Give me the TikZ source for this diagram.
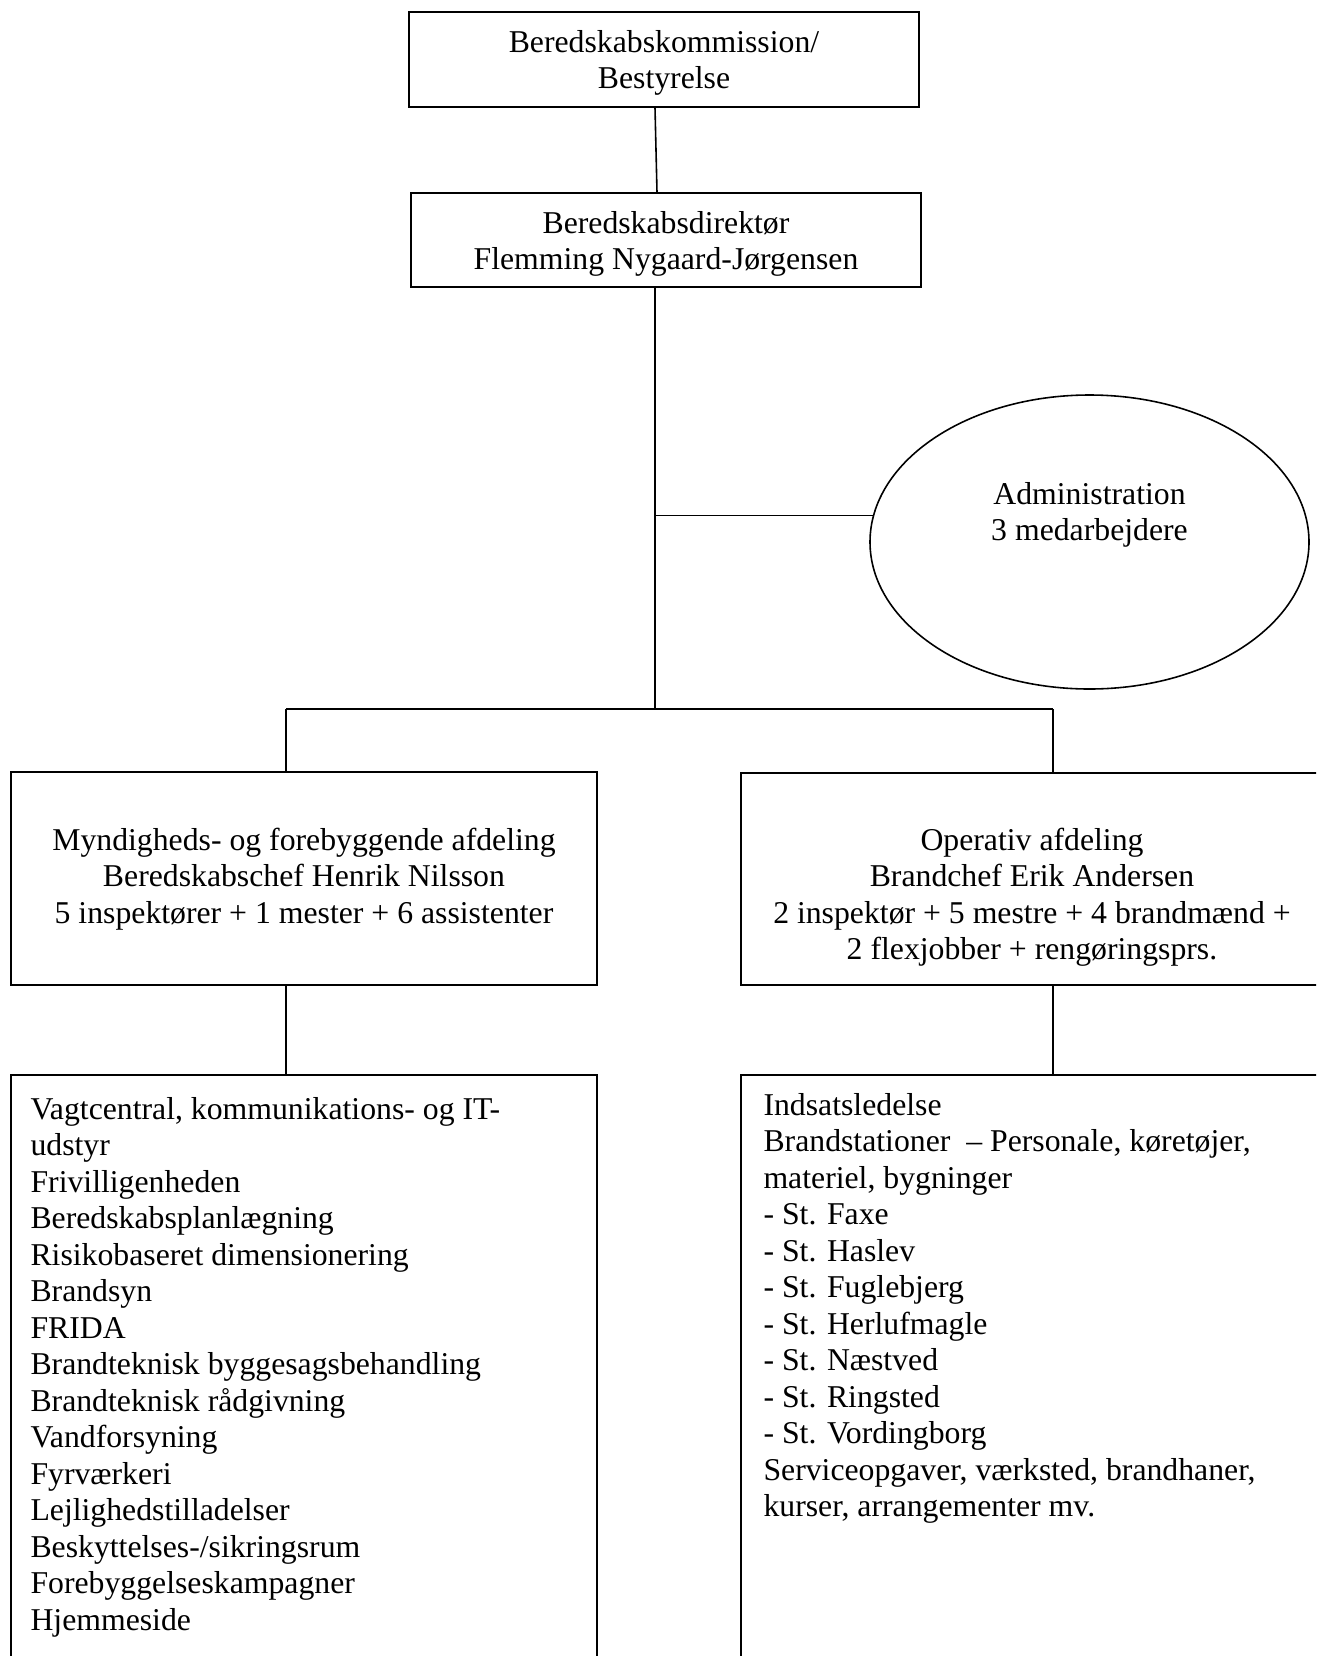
\documentclass[tikz,border=0pt]{standalone}
\usepackage{fontspec}
\setmainfont{Liberation Serif}
\usetikzlibrary{fit,shapes.geometric}
\begin{document}
\begin{tikzpicture}[x=0.378pt,y=-0.378pt,
  box/.style={draw, line width=0.6pt, inner sep=0pt},
  lbl/.style={font=\fontsize{12}{13.8}\selectfont, align=center, inner sep=0pt},
  lst/.style={font=\fontsize{12}{13.8}\selectfont, align=left, inner sep=0pt, anchor=north west},
  conn/.style={line width=0.6pt}]
\useasboundingbox (0,0) rectangle (1316,1656);
\begin{scope}
\clip (0,0) rectangle (1316,1656);
% boxes
\node[box, fit={(409,12)(919,107)}] (top) {};
\node[lbl] (toplbl) at (664,63) {Beredskabskommission/\\Bestyrelse};
\node[box, fit={(411,193)(921,287)}] (dir) {};
\node[lbl] (dirlbl) at (666,244) {Beredskabsdirektør\\Flemming Nygaard-Jørgensen};
\node[box, ellipse, minimum width=439*0.378pt, minimum height=294*0.378pt] (adm) at (1089.5,542) {};
\node[lbl] (admlbl) at (1089.5,515) {Administration\\3 medarbejdere};
\node[box, fit={(11,772)(597,985)}] (mynd) {};
\node[lbl] (myndlbl) at (304,879) {Myndigheds- og forebyggende afdeling\\Beredskabschef Henrik Nilsson\\5 inspektører + 1 mester + 6 assistenter};
\node[box, fit={(741,773)(1323,985)}] (oper) {};
\node[lbl] (operlbl) at (1032,897) {Operativ afdeling\\Brandchef Erik Andersen\\2 inspektør + 5 mestre + 4 brandmænd +\\2 flexjobber + rengøringsprs.};
\node[box, fit={(11,1075)(597,1680)}] (tasks) {};
\node[lst] (tasklist) at (30,1093) {\strut Vagtcentral, kommunikations- og IT-\\udstyr\\Frivilligenheden\\Beredskabsplanlægning\\Risikobaseret dimensionering\\Brandsyn\\FRIDA\\Brandteknisk byggesagsbehandling\\Brandteknisk rådgivning\\Vandforsyning\\Fyrværkeri\\Lejlighedstilladelser\\Beskyttelses-/sikringsrum\\Forebyggelseskampagner\\Hjemmeside};
\node[box, fit={(741,1075)(1323,1680)}] (ops) {};
\node[lst] (opslist) at (763,1089) {\strut Indsatsledelse\\Brandstationer \ – Personale, køretøjer,\\materiel, bygninger\\- St. Faxe\\- St. Haslev\\- St. Fuglebjerg\\- St. Herlufmagle\\- St. Næstved\\- St. Ringsted\\- St. Vordingborg\\Serviceopgaver, værksted, brandhaner,\\kurser, arrangementer mv.};
% connectors
\coordinate (sx1) at (655,0);
\coordinate (sx2) at (657,0);
\coordinate (junc) at (655,709);
\coordinate (bl) at (286,709);
\coordinate (br) at (1053,709);
\draw[conn] (top.south -| sx1) -- (dir.north -| sx2);
\draw[conn] (dir.south -| junc) -- (junc);
\draw[conn] (adm.173 -| junc) -- (adm.173);
\draw[conn] (bl) -- (br);
\draw[conn] (bl) -- (bl |- mynd.north);
\draw[conn] (br) -- (br |- oper.north);
\draw[conn] (bl |- mynd.south) -- (bl |- tasks.north);
\draw[conn] (br |- oper.south) -- (br |- ops.north);
\end{scope}
\end{tikzpicture}
\end{document}
